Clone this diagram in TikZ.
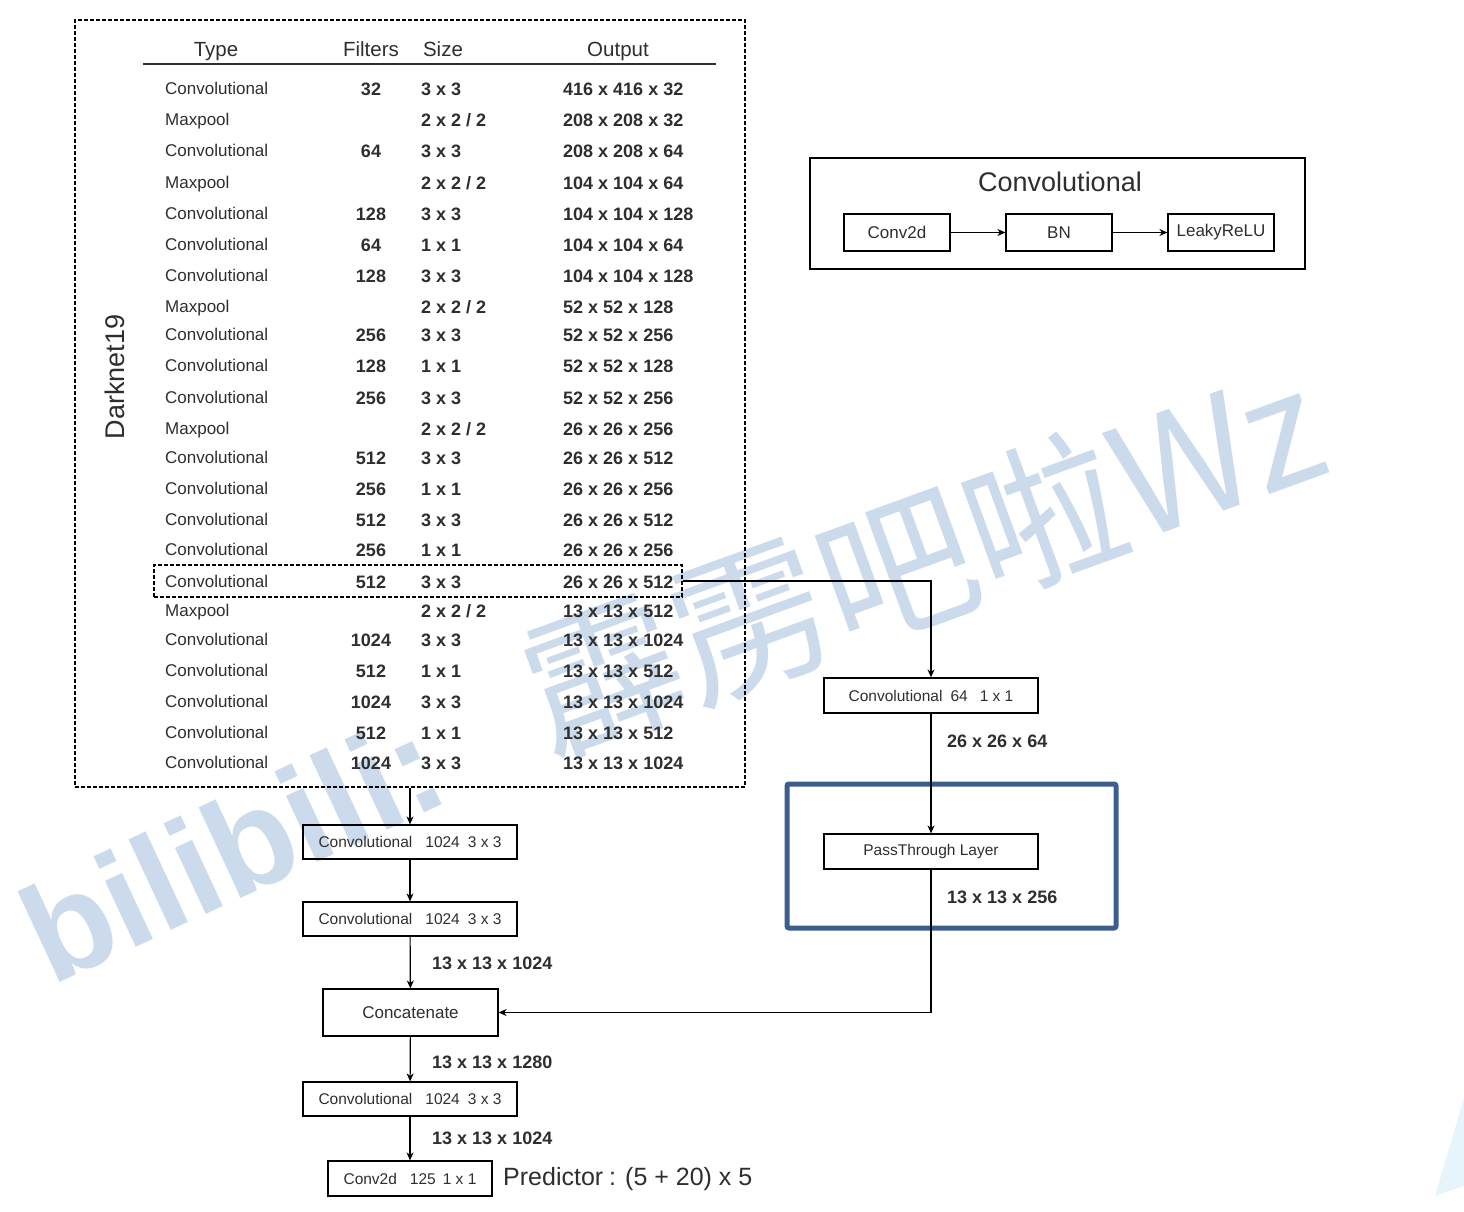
\documentclass[tikz,border=0pt]{standalone}
\usepackage{fontspec}
\setmainfont{Liberation Sans}
\newfontfamily\cjk{Noto Sans CJK SC}
\usetikzlibrary{arrows.meta}
\definecolor{txt}{HTML}{2E2E2E}
\definecolor{wm}{RGB}{204,219,236}
\definecolor{bluebox}{HTML}{3B5E8C}
\definecolor{tri}{HTML}{E6F5FC}
\newcommand\mpsz{2 x 2 / 2}
\begin{document}
\begin{tikzpicture}[x=1pt,y=-1pt,
  cell/.style={text=txt, inner sep=0pt, text height=12pt, text depth=3pt, yshift=-2pt, font=\fontsize{17}{17}\selectfont},
  num/.style={text=txt, inner sep=0pt, text height=13pt, text depth=2pt, yshift=-2pt, font=\fontsize{18}{18}\selectfont\bfseries},
  head/.style={text=txt, inner sep=0pt, text height=15pt, text depth=4pt, yshift=-3pt, font=\fontsize{20.5}{20.5}\selectfont},
  box/.style={draw=black, line width=1.2pt, inner sep=0pt, text=txt, font=\fontsize{15.5}{15.5}\selectfont},
  lbox/.style={box, minimum width=106pt, minimum height=37pt, font=\fontsize{17}{17}\selectfont},
  arr/.style={-{Stealth[length=8pt,width=7pt,inset=2.5pt]}, line width=1.2pt},
  lbl/.style={text=txt, inner sep=0pt, anchor=west, font=\fontsize{18}{18}\selectfont\bfseries},
  dashbox/.style={draw=black, line width=1.1pt, dash pattern=on 4pt off 2pt, inner sep=0pt},
]
\useasboundingbox (0,0) rectangle (1464,1212);
% watermark
\node[text=wm, rotate=25, inner sep=0pt, font=\fontsize{138}{138}\selectfont\bfseries] (wm1) at (232,848) {bilibili:};
\node[text=wm, rotate=20, inner sep=0pt, font=\cjk\fontsize{156}{156}\selectfont] (wm2) at (922,558) {霹雳吧啦Wz};
\fill[tri] (1435,1196) -- (1464,1098) -- (1464,1186) -- cycle;

% Darknet19 frame
\node[dashbox, minimum width=670pt, minimum height=767pt] (dark) at (410,403.5) {};
\node[text=txt, rotate=90, inner sep=0pt, font=\fontsize{27}{27}\selectfont] (dlabel) at (115,377) {Darknet19};

% header
\node[head] (hType) at (216,48) {Type};
\node[head] (hFilt) at (371,48) {Filters};
\node[head] (hSize) at (443,48) {Size};
\node[head] (hOut) at (618,48) {Output};
\draw[line width=2pt, txt] (143,64) -- (716,64);

% rows
\foreach \ty/\fl/\sz/\ou/\yy [count=\i] in {
  Convolutional/32/3 x 3/416 x 416 x 32/88,
  Maxpool/{}/\mpsz/208 x 208 x 32/119,
  Convolutional/64/3 x 3/208 x 208 x 64/150,
  Maxpool/{}/\mpsz/104 x 104 x 64/182,
  Convolutional/128/3 x 3/104 x 104 x 128/213,
  Convolutional/64/1 x 1/104 x 104 x 64/244,
  Convolutional/128/3 x 3/104 x 104 x 128/275,
  Maxpool/{}/\mpsz/52 x 52 x 128/306,
  Convolutional/256/3 x 3/52 x 52 x 256/334,
  Convolutional/128/1 x 1/52 x 52 x 128/365,
  Convolutional/256/3 x 3/52 x 52 x 256/397,
  Maxpool/{}/\mpsz/26 x 26 x 256/428,
  Convolutional/512/3 x 3/26 x 26 x 512/457,
  Convolutional/256/1 x 1/26 x 26 x 256/488,
  Convolutional/512/3 x 3/26 x 26 x 512/519,
  Convolutional/256/1 x 1/26 x 26 x 256/549,
  Convolutional/512/3 x 3/26 x 26 x 512/581,
  Maxpool/{}/\mpsz/13 x 13 x 512/610,
  Convolutional/1024/3 x 3/13 x 13 x 1024/639,
  Convolutional/512/1 x 1/13 x 13 x 512/670,
  Convolutional/1024/3 x 3/13 x 13 x 1024/701,
  Convolutional/512/1 x 1/13 x 13 x 512/732,
  Convolutional/1024/3 x 3/13 x 13 x 1024/762}
{
  \node[cell, anchor=west] (ty\i) at (165,\yy) {\ty};
  \node[num] (fl\i) at (371,\yy) {\fl};
  \node[num, anchor=west] (sz\i) at (421,\yy) {\sz};
  \node[num, anchor=west] (ou\i) at (563,\yy) {\ou};
}

% selected row
\node[dashbox, minimum width=528pt, minimum height=32pt] (sel) at (418,581) {};

% legend
\draw[line width=1.5pt] (810,158) rectangle (1305,269);
\node[text=txt, inner sep=0pt, font=\fontsize{27}{27}\selectfont] (ltitle) at (1060,182) {Convolutional};
\node[lbox] (lconv) at (897,232.5) {Conv2d};
\node[lbox] (lbn) at (1059,232.5) {BN};
\node[lbox] (lrelu) at (1221,232.5) {LeakyReLU};
\draw[arr] (lconv) -- (lbn);
\draw[arr] (lbn) -- (lrelu);

% left chain
\node[box, minimum width=214pt, minimum height=34pt] (c1) at (410,842) {Convolutional\hspace{13pt}1024\hspace{8pt}3 x 3};
\node[box, minimum width=214pt, minimum height=34pt] (c2) at (410,919) {Convolutional\hspace{13pt}1024\hspace{8pt}3 x 3};
\node[box, minimum width=175pt, minimum height=47pt, font=\fontsize{17}{17}\selectfont] (cat) at (410.5,1012.5) {Concatenate};
\node[box, minimum width=214pt, minimum height=34pt] (c3) at (410,1099) {Convolutional\hspace{13pt}1024\hspace{8pt}3 x 3};
\node[box, minimum width=164pt, minimum height=35pt] (c4) at (410,1178.5) {Conv2d\hspace{13pt}125\hspace{7pt}1 x 1};
\node[text=txt, inner sep=0pt, anchor=west, font=\fontsize{25}{25}\selectfont] (pred) at (503,1179) {Predictor\hspace{6pt}:\hspace{9pt}(5 + 20) x 5};

\draw[arr] (dark.south -| c1.north) -- (c1.north);
\draw[arr] (c1) -- (c2);
\draw[arr] (c2) -- (cat);
\draw[arr] (cat) -- (c3);
\draw[arr] (c3) -- (c4);
\node[lbl] (l1) at (432,963) {13 x 13 x 1024};
\node[lbl] (l2) at (432,1062) {13 x 13 x 1280};
\node[lbl] (l3) at (432,1138) {13 x 13 x 1024};

% right branch
\node[box, minimum width=214pt, minimum height=35pt] (c64) at (931,695.5) {Convolutional\hspace{8pt}64\hspace{12pt}1 x 1};
\draw[line width=5pt, bluebox, rounded corners=2pt] (787,784) rectangle (1116,928);
\node[box, minimum width=214pt, minimum height=35pt] (pass) at (931,851.5) {PassThrough Layer};
\node[lbl] (l4) at (947,741) {26 x 26 x 64};
\node[lbl] (l5) at (947,897) {13 x 13 x 256};
\draw[arr] (sel.east) -| (c64.north);
\draw[arr] (c64) -- (pass);
\draw[arr] (pass.south) |- (cat.east);
\end{tikzpicture}
\end{document}
